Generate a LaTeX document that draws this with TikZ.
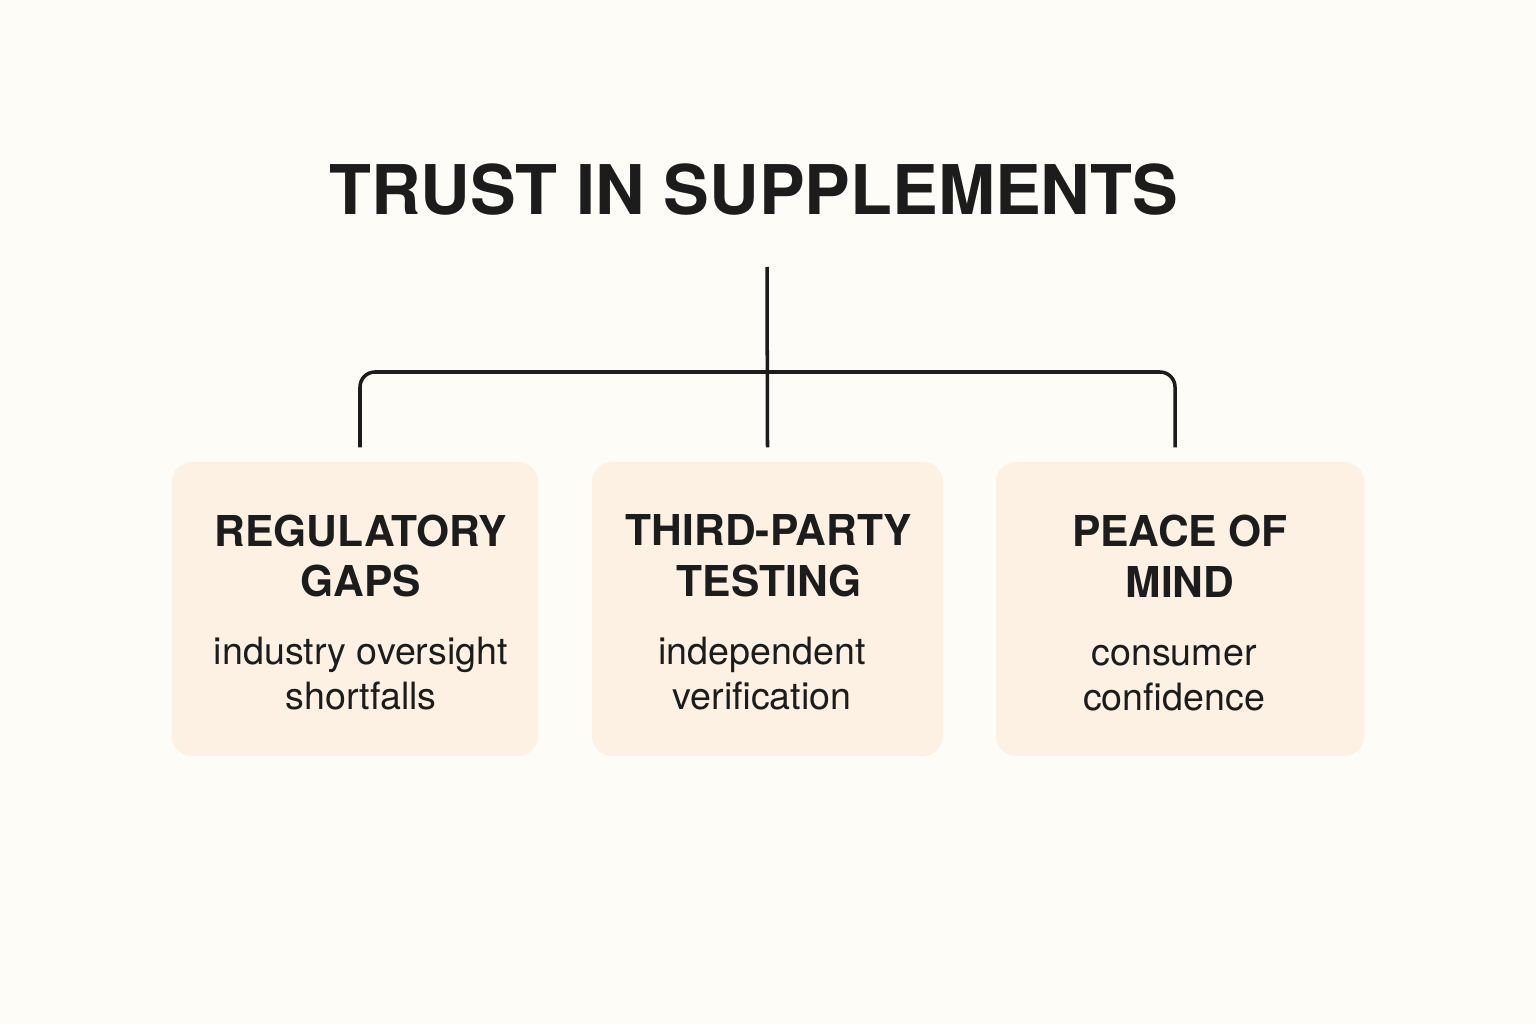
\documentclass[tikz,border=0pt]{standalone}
\usepackage{fontspec}
\setmainfont{TeX Gyre Heros}
\definecolor{paper}{HTML}{FDFCF6}
\definecolor{boxfill}{HTML}{FCF1E3}
\definecolor{ink}{HTML}{1C1C1C}
\tikzset{
  card/.style={fill=boxfill, rounded corners=0.2cm, minimum height=2.94cm},
  head/.style={align=center, text=ink, font=\bfseries\fontsize{12.1}{14.5}\selectfont},
  sub/.style={align=center, text=ink, font=\fontsize{10.7}{12.8}\selectfont},
  link/.style={draw=ink, line width=1pt}
}
\begin{document}
\begin{tikzpicture}
\fill[paper] (0,0) rectangle (15.36,10.24);
\useasboundingbox (0,0) rectangle (15.36,10.24);
\node[text=ink, font=\bfseries\fontsize{19.5}{23}\selectfont] (title) at (7.54,8.34) {TRUST IN SUPPLEMENTS};
% three cards
\node[card, minimum width=3.66cm] (gaps) at (3.55,4.15) {};
\node[card, minimum width=3.51cm] (testing) at (7.675,4.15) {};
\node[card, minimum width=3.68cm] (mind) at (11.80,4.15) {};
\node[head] (gapsh) at (3.61,4.68) {REGULATORY\\GAPS};
\node[head] (testingh) at (7.69,4.68) {THIRD-PARTY\\TESTING};
\node[head] (mindh) at (11.80,4.68) {PEACE OF\\MIND};
\node[sub] (gapss) at (3.61,3.50) {industry oversight\\shortfalls};
\node[sub] (testings) at (7.62,3.50) {independent\\verification};
\node[sub] (minds) at (11.74,3.46) {consumer\\confidence};
% connectors
\coordinate (stem) at (7.67,7.57);
\coordinate (hub) at (7.67,6.52);
\draw[link] (stem) -- ([yshift=0.14cm]testing.north);
\draw[link, rounded corners=0.15cm] ([xshift=0.05cm,yshift=0.14cm]gaps.north) |- (hub) -| ([xshift=-0.05cm,yshift=0.14cm]mind.north);
\end{tikzpicture}
\end{document}
